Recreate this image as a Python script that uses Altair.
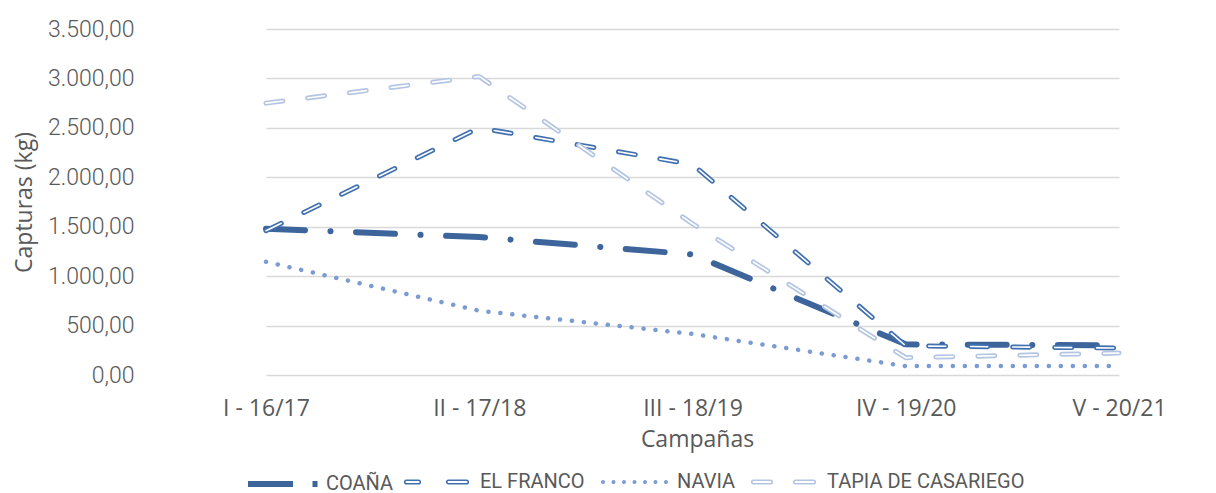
import altair as alt
import pandas as pd

# ---- data ----
campanas = ["I - 16/17", "II - 17/18", "III - 18/19", "IV - 19/20", "V - 20/21"]
series = ["COAÑA", "EL FRANCO", "NAVIA", "TAPIA DE CASARIEGO"]
coana = [1480, 1395, 1220, 310, 300]
el_franco = [1460, 2500, 2130, 295, 272]
navia = [1145, 650, 415, 90, 90]
tapia = [2750, 3020, 1530, 175, 222]
y_ticks = [0, 500, 1000, 1500, 2000, 2500, 3000, 3500]

# ---- styles ----
colors = ["#3D659C", "#4170B0", "#7B9CD2", "#B4C5E3"]
dashes = [[39, 25.5, 0.1, 25.5], [17, 25], [0.1, 11.9], [17, 25]]
widths = [6, 5, 4.5, 5]
compound = [False, True, False, True]
legend_x = [85, 243, 440, 590]
legend_y = 417
LABEL_FONT = "Roboto"
GRAY = "#595959"


def capsule(x1, x2, h):
    return (f"M {x1} {-h} L {x2} {-h} A {h} {h} 0 0 1 {x2} {h} "
            f"L {x1} {h} A {h} {h} 0 0 1 {x1} {-h} Z ")


def dot(cx, r):
    return (f"M {cx - r} 0 A {r} {r} 0 1 0 {cx + r} 0 "
            f"A {r} {r} 0 1 0 {cx - r} 0 Z ")


# legend symbol shapes (unit box -1..1 == 70 px)
sym_paths = [
    "M -1 0 L 0.286 0 M 0.843 0 L 0.986 0",
    capsule(-0.929, -0.586, 0.05) + capsule(0.271, 0.786, 0.05),
    "".join(dot(c, 0.0286) for c in [-0.943, -0.643, -0.343, -0.043, 0.257, 0.557, 0.857]),
    capsule(-0.929, -0.443, 0.05) + capsule(0.271, 0.786, 0.05),
]
sym_widths = [6, 1.6, 2, 1.6]

values = {"COAÑA": coana, "EL FRANCO": el_franco, "NAVIA": navia,
          "TAPIA DE CASARIEGO": tapia}
rows = []
for s in series:
    for c, v in zip(campanas, values[s]):
        rows.append({"serie": s, "campana": c, "valor": v})
df = pd.DataFrame(rows)

label_expr = ("replace(replace(replace(format(datum.value, ',.2f'), ',', 'X'), '.', ','), 'X', '.')")

x_enc = alt.X("campana:O", sort=campanas,
              scale=alt.Scale(type="point", range=[106, 959], padding=0),
              axis=alt.Axis(title="Campañas", domain=False, ticks=False, tickSize=0,
                            grid=False, labelAngle=0, labelPadding=22,
                            labelFont="Open Sans", labelFontSize=23, labelColor=GRAY,
                            titleFont="Open Sans", titleFontSize=23, titleColor=GRAY,
                            titleFontWeight="normal", titleX=537, titleY=71,
                            titleBaseline="alphabetic", titleAlign="center"))
y_enc = alt.Y("valor:Q", scale=alt.Scale(domain=[0, 3500], nice=False),
              axis=alt.Axis(title="Capturas (kg)", values=y_ticks, labelExpr=label_expr,
                            domain=False, ticks=False, tickSize=0, labelPadding=26,
                            labelFont=LABEL_FONT, labelFontSize=23, labelColor=GRAY,
                            labelFontWeight=300,
                            gridColor="#D9D9D9", gridWidth=1.5,
                            titleFont="Open Sans", titleFontSize=23, titleColor=GRAY,
                            titleFontWeight="normal", titleX=-136, titleY=173,
                            titleAngle=270, titleBaseline="middle", titleAlign="center"))

base = alt.Chart(df).encode(x=x_enc, y=y_enc)

layers = []
for i, s in enumerate(series):
    sub = base.transform_filter(alt.datum.serie == s)
    layers.append(sub.mark_line(interpolate="linear", strokeCap="round", strokeJoin="round",
                                color=colors[i], strokeWidth=widths[i],
                                strokeDash=dashes[i]))
    if compound[i]:
        layers.append(sub.mark_line(interpolate="linear", strokeCap="round",
                                    strokeJoin="round", color="white", strokeWidth=1.6,
                                    strokeDash=dashes[i]))

# legend layers (invisible lines, one legend per series)
for i, s in enumerate(series):
    sub = base.transform_filter(alt.datum.serie == s)
    leg = alt.Legend(title=None, orient="none", legendX=legend_x[i], legendY=legend_y,
                     symbolType=sym_paths[i], symbolSize=4900,
                     symbolStrokeWidth=sym_widths[i], symbolOpacity=1,
                     symbolStrokeColor=colors[i],
                     labelFont=LABEL_FONT, labelFontSize=20, labelColor=GRAY,
                     labelOffset=5, labelLimit=400)
    layers.append(sub.mark_line(opacity=0).encode(
        color=alt.Color("serie:N", scale=alt.Scale(domain=[s], range=[colors[i]]),
                        legend=leg)))

chart = alt.layer(*layers).resolve_scale(color="independent").properties(
    width=1048, height=346,
    autosize=alt.AutoSizeParams(type="none"),
    padding={"left": 152, "top": 21, "right": 0, "bottom": 118},
    background="white",
).configure_view(stroke=None).configure_legend(padding=0)

chart.save("out.html", embed_options={"renderer": "svg", "actions": False})
